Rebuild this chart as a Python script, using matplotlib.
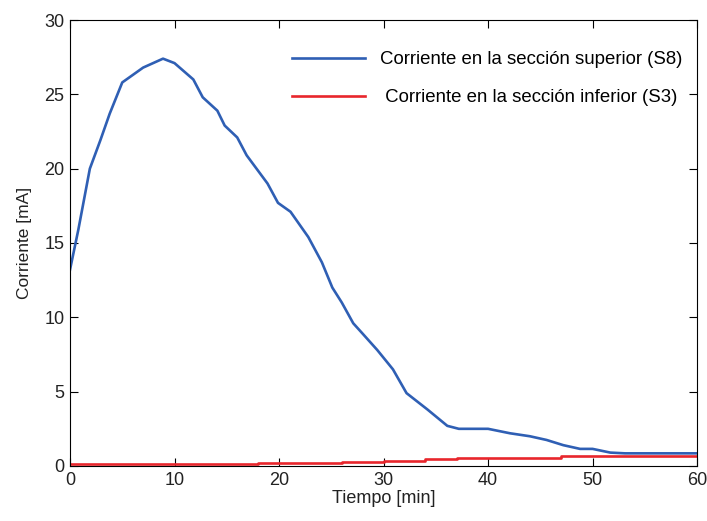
import numpy as np
import matplotlib.pyplot as plt

plt.rcParams['font.family'] = ['Liberation Sans', 'DejaVu Sans']

# Corriente en la seccion superior (S8)
t_sup = [0, 0.8, 1.9, 2.9, 3.8, 5.0, 7.0, 8.9, 10.0, 11.8, 12.7, 14.1, 14.8, 16.0,
         16.9, 18.9, 19.9, 21.1, 22.8, 24.1, 25.1, 26.0, 27.1, 28.0, 29.4, 30.9,
         32.2, 34.2, 36.1, 37.2, 40.0, 42.1, 44.0, 45.6, 47.2, 48.8, 50.0, 51.7,
         53.1, 60.0]
i_sup = [13.2, 15.9, 20.0, 21.9, 23.7, 25.8, 26.8, 27.4, 27.1, 26.0, 24.8, 23.9, 22.9, 22.1,
         20.9, 19.0, 17.7, 17.1, 15.4, 13.7, 12.0, 11.0, 9.6, 8.9, 7.8, 6.5,
         4.9, 3.8, 2.7, 2.5, 2.5, 2.2, 2.0, 1.75, 1.4, 1.15, 1.15, 0.9,
         0.85, 0.85]

# Corriente en la seccion inferior (S3), escalonada
t_inf = [0, 18, 26, 30, 34, 37, 47, 60]
i_inf = [0.12, 0.2, 0.28, 0.35, 0.47, 0.57, 0.67, 0.67]

fig = plt.figure(figsize=(7.07, 5.21), dpi=100)
ax = fig.add_axes([0.099, 0.1056, 0.887, 0.856])

ax.plot(t_sup, i_sup, color='#2f5fb4', lw=1.9, label='Corriente en la sección superior (S8)')
ax.plot(t_inf, i_inf, color='#e8262c', lw=1.9, drawstyle='steps-post',
        label=' Corriente en la sección inferior (S3)')

ax.set_xlim(0, 60)
ax.set_ylim(0, 30)
ax.set_xticks(np.arange(0, 61, 10))
ax.set_yticks(np.arange(0, 31, 5))
ax.tick_params(direction='in', top=True, right=True, labelsize=13, length=6, pad=4,
               labelcolor='#222222')
ax.set_xlabel('Tiempo [min]', fontsize=13, labelpad=1, color='#222222')
ax.set_ylabel('Corriente [mA]', fontsize=12.5, labelpad=9, color='#222222')

ax.legend(loc='upper right', bbox_to_anchor=(1.003, 0.968), frameon=False, fontsize=13.4,
          handlelength=3.9, handletextpad=0.8, labelspacing=1.15, borderpad=0.4)

fig.savefig('out.png', dpi=100)
